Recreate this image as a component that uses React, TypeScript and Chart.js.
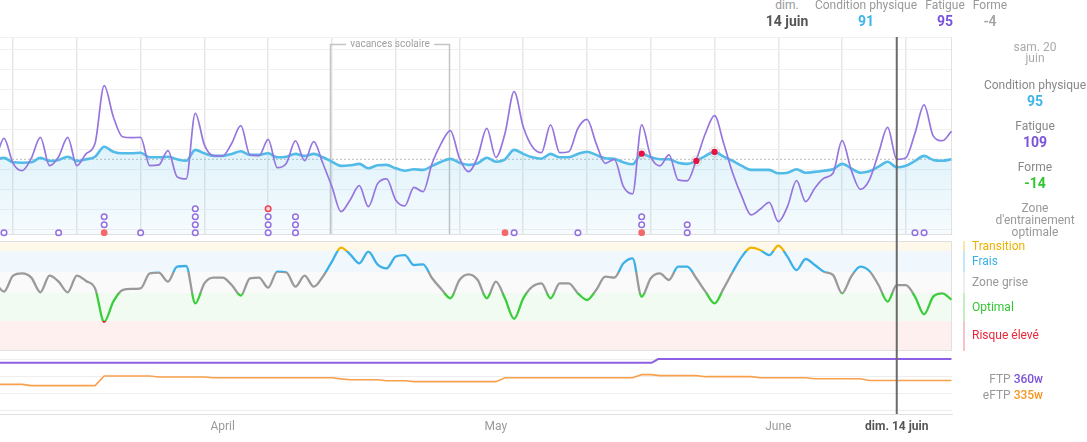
import React, { useEffect, useRef } from "react";
import { Chart, registerables } from "chart.js";

Chart.register(...registerables);

// day index: 0 = 1 March 2020
const FIRST_DAY = 6; // 7 March 2020
const SELECTED_DAY = 105; // dim. 14 juin
const X_MIN = 6.564;
const X_MAX = 111.065;

const weekTicks = [8, 15, 22, 29, 36, 43, 50, 57, 64, 71, 78, 85, 92, 99, 106];
const monthTickDays = [31, 61, 92, 105];
const monthTickLabels = ["April", "May", "June", "dim. 14 juin"];

const fitness = [
  95, 95.7, 93.5, 93.3, 93.5, 95.7, 94.2, 94.7, 96.3, 94.2,
  95, 96.3, 101.3, 98.8, 98, 98, 98.3, 96, 96, 96.3,
  95, 94.3, 99.7, 98, 96.7, 96.7, 97.7, 99, 97.2, 97.2,
  98, 96, 96.3, 97.7, 96.7, 97.7, 96, 93.8, 91.7, 92,
  92.7, 90.5, 92, 92.2, 90.5, 89.3, 90, 89.7, 91.7, 93.8,
  95.2, 93.3, 92.2, 93, 95.8, 93.8, 95, 99.7, 97.7, 96,
  95.3, 97.7, 96, 96, 97.7, 98.8, 97.2, 95.5, 95.2, 93.5,
  92.5, 97.8, 96, 95, 95, 93.3, 92.7, 94.2, 96.7, 98.7,
  96.3, 94.2, 91.7, 89.7, 89.7, 89.7, 88, 88.3, 90, 88.3,
  88.7, 89.3, 90, 92.7, 90.5, 88.3, 89, 91.3, 93.8, 91,
  91.8, 94.2, 96.7, 94.7, 94.3, 95,
];

const fatigue = [
  93, 105.5, 93, 89.3, 95.5, 106, 91.8, 96.3, 106, 91.8,
  97.7, 103, 131.8, 116.3, 106.3, 105.8, 106, 91.8, 92.2, 99.3,
  86.3, 85.2, 118, 102.2, 96.8, 96.7, 103, 111.8, 97.2, 96.8,
  105, 90.8, 93, 104.2, 94.3, 103.8, 93, 81.3, 68.8, 74.7,
  81.8, 71.3, 82.7, 85.2, 74.7, 71.7, 81, 78.8, 93, 103,
  109.3, 95.5, 88.8, 96.3, 110.5, 96, 108, 128.8, 111.3, 101.3,
  98.3, 112.2, 98.3, 98.8, 110.5, 115, 103, 93, 95, 81.3,
  77.7, 112.2, 96.3, 91.7, 97.2, 84.7, 84.2, 94.7, 108, 116.8,
  103, 88, 76.3, 67.2, 70, 73.5, 63.8, 71.3, 84.3, 73.8,
  80.5, 85.5, 88, 104.3, 89.7, 80, 84.7, 98, 111, 95,
  95.8, 108, 122.2, 106.7, 104.3, 109,
];

// form as % of fitness
const formPercent = [
  -1.9, -9, 2.4, 4, 1, -9.5, 2.4, -1.9, -9.5, 2.4,
  -1.4, -6.7, -30.6, -16.2, -7.9, -7.1, -6.7, 4, 4.5, -1.9,
  8.8, 9.3, -17.4, -3.1, 1, 1, -4.3, -11.9, 0.5, 1,
  -6.2, 5.2, 4.8, -5.5, 2.4, -5.5, 1.7, 12.4, 22.4, 17.6,
  11.2, 19.5, 10.5, 7.6, 16, 17.1, 10, 10.5, 0.5, -7.1,
  -13.8, -0.7, 3.3, -0.7, -13.8, -1.9, -14, -28.5, -13.8, -5.5,
  -3.1, -13.8, -3.1, -3.1, -10.2, -15, -7.9, 1.7, 1, 11.2,
  14.8, -12.6, 0.5, 4, -0.7, 8.8, 8.8, 0.5, -9, -17.4,
  -6.7, 5.2, 16, 22.4, 20.7, 17.1, 23.8, 16, 6.4, 14.3,
  10, 5.2, 2.9, -10.2, 1.7, 8.8, 5.7, -4.3, -16.2, -4.4,
  -4.4, -12.6, -25.2, -12.6, -10.2, -14.7,
];

const eftp = [
  330.5, 330.5, 330.5, 330.5,
  329, 329, 329, 329, 329, 329, 329, 329,
  340.4, 340.4, 340.4, 340.4, 340.4, 340.4,
  339.2, 339.2, 339.2, 339.2, 339.2, 339.2,
  338.4, 338.4, 338.4, 338.4, 338.4, 338.4, 338.4, 338.4, 338.4, 338.4, 338.4, 338.4, 338.4, 338.4,
  337,
  336, 336, 336, 336,
  334.8, 334.8, 334.8,
  333.7, 333.7, 333.7, 333.7, 333.7, 333.7, 333.7, 333.7, 333.7, 333.7,
  338.4, 338.4, 338.4, 338.4, 338.4, 338.4, 338.4, 338.4, 338.4, 338.4, 338.4, 338.4, 338.4, 338.4, 338.4,
  342, 342,
  340.8, 340.8, 340.8, 340.8, 340.8,
  339.6, 339.6, 339.6, 339.6, 339.6, 339.6,
  338.4, 338.4, 338.4, 338.4, 338.4, 338.4,
  337.2, 337.2, 337.2, 337.2, 337.2, 337.2,
  335, 335, 335, 335, 335, 335, 335, 335, 335, 335,
];

const ftpDays = [6, 78.1, 78.8, 111];
const ftpValues = [356, 356, 360.5, 360.5];

const loadGridValues = [60, 70, 80, 90, 100, 110, 120, 130, 140, 150];
const ftpGridValues = [300, 320, 340, 360];

const formZoneBounds = [20, 5, -10, -30];
const formZoneLineColors = ["#f0b400", "#3cb0e6", "#9a9a9a", "#3ccd3c", "#e8283a"];
const formZoneFillColors = ["#fdf8ea", "#f1f8fd", "#fafafa", "#f2fbf1", "#fdf0ef"];

const activityDays = [7, 13, 18, 18, 18, 22, 28, 28, 28, 28, 36, 36, 36, 36, 39, 39, 39, 62, 63, 70, 77, 77, 77, 82, 82, 107, 108];
const activityLevels = [0, 0, 0, 1, 2, 0, 0, 1, 2, 3, 0, 1, 2, 3, 0, 1, 2, 0, 0, 0, 0, 1, 2, 0, 1, 0, 0];
const activityKinds = ["p", "p", "r", "p", "p", "p", "p", "p", "p", "p", "p", "p", "p", "o", "p", "p", "p", "r", "p", "p", "r", "p", "p", "p", "p", "p", "p"];

const eventDays = [77, 83, 85];
const vacationDays = [42.8, 55.8];

const CHART_W = 954;

export default function App() {
  const c1 = useRef<HTMLCanvasElement>(null);
  const c2 = useRef<HTMLCanvasElement>(null);
  const c3 = useRef<HTMLCanvasElement>(null);

  useEffect(() => {
    Chart.defaults.font.family = "Roboto, 'Noto Sans', sans-serif";
    const pts = (arr: number[]) => arr.map((v, i) => ({ x: FIRST_DAY + i, y: v }));
    const lastFitness = fitness[fitness.length - 1];
    const fitnessAt = (d: number) => fitness[d - FIRST_DAY];
    const zeroW = (s: any) => {
      s.width = 0;
    };
    const zeroH = (s: any) => {
      s.height = 0;
    };

    const markerLine = {
      id: "markerLine",
      afterDatasetsDraw(chart: any, _a: any, opts: any) {
        const { ctx, chartArea } = chart;
        const x = chart.scales.x.getPixelForValue(SELECTED_DAY);
        ctx.save();
        ctx.strokeStyle = "#6a6a6a";
        ctx.lineWidth = 2;
        ctx.beginPath();
        ctx.moveTo(x, opts.fromArea ? chartArea.top : 0);
        ctx.lineTo(x, opts.toArea ? chartArea.bottom : chart.height);
        ctx.stroke();
        ctx.restore();
      },
    };

    const frame = {
      id: "frame",
      beforeDatasetsDraw(chart: any) {
        const { ctx, chartArea: a } = chart;
        ctx.save();
        ctx.strokeStyle = "#e2e2e2";
        ctx.lineWidth = 1;
        ctx.beginPath();
        ctx.moveTo(a.right - 0.5, a.top);
        ctx.lineTo(a.right - 0.5, a.bottom);
        ctx.stroke();
        ctx.restore();
      },
    };

    const vacances = {
      id: "vacances",
      beforeDatasetsDraw(chart: any) {
        const { ctx, chartArea: a } = chart;
        const xs = chart.scales.x;
        const x1 = Math.round(xs.getPixelForValue(vacationDays[0])) + 0.5;
        const x2 = Math.round(xs.getPixelForValue(vacationDays[1])) + 0.5;
        const y = a.top + 7.5;
        const mid = (x1 + x2) / 2;
        ctx.save();
        ctx.strokeStyle = "#c4c4c4";
        ctx.lineWidth = 1.5;
        ctx.beginPath();
        ctx.moveTo(x1, a.bottom);
        ctx.lineTo(x1, y);
        ctx.lineTo(mid - 44, y);
        ctx.moveTo(mid + 44, y);
        ctx.lineTo(x2, y);
        ctx.lineTo(x2, a.bottom);
        ctx.stroke();
        ctx.restore();
      },
    };

    const zones = {
      id: "zones",
      beforeDatasetsDraw(chart: any) {
        const { ctx, chartArea: a } = chart;
        const y = chart.scales.y;
        const edges = [y.max, ...formZoneBounds, y.min];
        ctx.save();
        for (let i = 0; i < formZoneFillColors.length; i++) {
          const t = y.getPixelForValue(edges[i]);
          const b = y.getPixelForValue(edges[i + 1]);
          ctx.fillStyle = formZoneFillColors[i];
          ctx.fillRect(a.left, t, a.right - a.left, b - t);
        }
        ctx.strokeStyle = "#e0e0e0";
        ctx.lineWidth = 1;
        ctx.beginPath();
        ctx.moveTo(a.left, a.top + 0.5);
        ctx.lineTo(a.right, a.top + 0.5);
        ctx.moveTo(a.left, a.bottom - 0.5);
        ctx.lineTo(a.right, a.bottom - 0.5);
        ctx.moveTo(a.right - 0.5, a.top);
        ctx.lineTo(a.right - 0.5, a.bottom);
        ctx.stroke();
        ctx.restore();
      },
    };

    const noPlugins = { legend: { display: false }, tooltip: { enabled: false } };

    const chart1 = new Chart(c1.current!, {
      type: "line",
      data: {
        datasets: [
          {
            data: eventDays.map((d) => ({ x: d, y: fitnessAt(d) })),
            showLine: false,
            pointRadius: 3.1,
            pointBackgroundColor: "#ec0f42",
            pointBorderColor: "#ec0f42",
            pointBorderWidth: 0,
            clip: false,
          } as any,
          {
            data: eventDays.map((d) => ({ x: d, y: fitnessAt(d) })),
            showLine: false,
            pointRadius: 5,
            pointBackgroundColor: "rgba(255,255,255,0)",
            pointBorderColor: "rgba(170,170,170,0.45)",
            pointBorderWidth: 1,
            clip: false,
          } as any,
          {
            data: activityDays.map((d, i) => ({ x: d, y: activityLevels[i] })),
            yAxisID: "yAct",
            showLine: false,
            pointRadius: activityKinds.map((k) => (k === "r" ? 3.4 : 2.8)),
            pointBorderWidth: activityKinds.map((k) => (k === "r" ? 0 : 1.5)),
            pointBackgroundColor: activityKinds.map((k) => (k === "r" ? "#f46a6a" : k === "o" ? "#fbd3d6" : "#ffffff")),
            pointBorderColor: activityKinds.map((k) => (k === "r" ? "#f46a6a" : k === "o" ? "#ee4455" : "#9370e0")),
            clip: false,
          } as any,
          {
            data: pts(fatigue),
            borderColor: "#9676de",
            borderWidth: 1.7,
            pointRadius: 0,
            cubicInterpolationMode: "monotone",
            fill: false,
          },
          {
            data: pts(fitness),
            borderColor: "#52bbe8",
            borderWidth: 2.6,
            pointRadius: 0,
            cubicInterpolationMode: "monotone",
            fill: "start",
            backgroundColor: (c: any) => {
              const ch = c.chart;
              const a = ch.chartArea;
              if (!a) return "rgba(82,187,232,0.12)";
              const g = ch.ctx.createLinearGradient(0, ch.scales.y.getPixelForValue(100), 0, a.bottom);
              g.addColorStop(0, "rgba(82,187,232,0.18)");
              g.addColorStop(1, "rgba(82,187,232,0.05)");
              return g;
            },
          } as any,
          {
            data: [
              { x: X_MIN, y: lastFitness },
              { x: X_MAX, y: lastFitness },
            ],
            borderColor: "#bdbdbd",
            borderWidth: 1,
            borderDash: [2, 2],
            pointRadius: 0,
            fill: false,
          },
        ],
      },
      options: {
        animation: false,
        responsive: false,
        layout: { autoPadding: false, padding: { top: 7, bottom: 6, left: 0, right: 2 } },
        plugins: { ...noPlugins, markerLine: { fromArea: true, toArea: false } } as any,
        scales: {
          x: {
            type: "linear",
            min: X_MIN,
            max: X_MAX,
            afterBuildTicks: (s: any) => {
              s.ticks = weekTicks.map((v) => ({ value: v }));
            },
            afterFit: zeroH,
            ticks: { display: false },
            grid: { color: "#e7e7e7", lineWidth: 1.5, drawTicks: false },
            border: { display: true, color: "#e0e0e0" },
          },
          y: {
            min: 57.65,
            max: 156.15,
            afterBuildTicks: (s: any) => {
              s.ticks = [...loadGridValues, 156.15].map((v) => ({ value: v }));
            },
            afterFit: zeroW,
            ticks: { display: false },
            grid: { color: "#f0f0f0", lineWidth: 1, drawTicks: false },
            border: { display: false },
          },
          yAct: {
            display: false,
            min: -0.1625,
            max: 24.4625,
          },
        },
      } as any,
      plugins: [frame, vacances, markerLine],
    });

    const chart2 = new Chart(c2.current!, {
      type: "line",
      data: {
        datasets: [
          {
            data: pts(formPercent),
            borderWidth: 2.3,
            pointRadius: 0,
            cubicInterpolationMode: "monotone",
            fill: false,
            borderColor: (c: any) => {
              const ch = c.chart;
              const a = ch.chartArea;
              if (!a) return "#9a9a9a";
              const ys = ch.scales.y;
              const g = ch.ctx.createLinearGradient(0, a.top, 0, a.bottom);
              const pos = (v: number) => Math.min(1, Math.max(0, (ys.getPixelForValue(v) - a.top) / (a.bottom - a.top)));
              g.addColorStop(0, formZoneLineColors[0]);
              formZoneBounds.forEach((b, i) => {
                const p = pos(b);
                g.addColorStop(p, formZoneLineColors[i]);
                g.addColorStop(p, formZoneLineColors[i + 1]);
              });
              g.addColorStop(1, formZoneLineColors[formZoneLineColors.length - 1]);
              return g;
            },
          } as any,
        ],
      },
      options: {
        animation: false,
        responsive: false,
        layout: { autoPadding: false, padding: { top: 1, bottom: 4, left: 0, right: 2 } },
        plugins: { ...noPlugins, markerLine: { fromArea: false, toArea: false } } as any,
        scales: {
          x: { type: "linear", min: X_MIN, max: X_MAX, display: false },
          y: { min: -51.43, max: 27.14, display: false },
        },
      } as any,
      plugins: [zones, markerLine],
    });

    const chart3 = new Chart(c3.current!, {
      type: "line",
      data: {
        datasets: [
          {
            data: ftpDays.map((d, i) => ({ x: d, y: ftpValues[i] })),
            borderColor: "#8d5fe3",
            borderWidth: 2,
            pointRadius: 0,
            fill: false,
            clip: false,
          } as any,
          {
            data: pts(eftp),
            borderColor: "#f8a04c",
            borderWidth: 1.6,
            pointRadius: 0,
            fill: false,
          },
        ],
      },
      options: {
        animation: false,
        responsive: false,
        layout: { autoPadding: false, padding: { top: 4, bottom: 0, left: 0, right: 2 } },
        plugins: { ...noPlugins, markerLine: { fromArea: false, toArea: true } } as any,
        scales: {
          x: {
            type: "linear",
            min: X_MIN,
            max: X_MAX,
            afterBuildTicks: (s: any) => {
              s.ticks = monthTickDays.map((v) => ({ value: v }));
            },
            afterFit: (s: any) => {
              s.height = 22;
            },
            ticks: {
              autoSkip: false,
              maxRotation: 0,
              padding: 6,
              color: (c: any) => (c.tick && c.tick.value === SELECTED_DAY ? "#555555" : "#9a9a9a"),
              font: (c: any) => ({ size: 12, weight: c.tick && c.tick.value === SELECTED_DAY ? "bold" : "normal" }),
              callback: (v: any) => {
                const i = monthTickDays.indexOf(Number(v));
                return i >= 0 ? monthTickLabels[i] : "";
              },
            },
            grid: { display: false, drawTicks: false },
            border: { display: true, color: "#e0e0e0" },
          },
          y: {
            min: 295.25,
            max: 360.6,
            afterBuildTicks: (s: any) => {
              s.ticks = ftpGridValues.map((v) => ({ value: v }));
            },
            afterFit: zeroW,
            ticks: { display: false },
            grid: { color: "#eeeeee", lineWidth: 1, drawTicks: false },
            border: { display: false },
          },
        },
      } as any,
      plugins: [markerLine],
    });

    return () => {
      chart1.destroy();
      chart2.destroy();
      chart3.destroy();
    };
  }, []);

  const T = (p: { x: number; y: number; s?: number; c?: string; w?: number | string; a?: "center" | "left" | "right"; children: React.ReactNode }) => {
    const size = p.s ?? 12;
    const lh = Math.round(size * 1.2);
    const width = 200;
    const a = p.a ?? "center";
    const left = a === "center" ? p.x - width / 2 : a === "right" ? p.x - width : p.x;
    return (
      <div
        style={{
          position: "absolute",
          left,
          top: p.y - lh / 2,
          width,
          textAlign: a,
          fontSize: size,
          lineHeight: lh + "px",
          color: p.c ?? "#999",
          fontWeight: p.w ?? 400,
          whiteSpace: "nowrap",
        }}
      >
        {p.children}
      </div>
    );
  };

  const bar = (top: number, h: number, color: string) => (
    <div style={{ position: "absolute", left: 963, top, width: 2, height: h, background: color }} />
  );

  return (
    <div
      style={{
        position: "absolute",
        left: 0,
        top: 0,
        width: 1087,
        height: 442,
        overflow: "hidden",
        background: "#fff",
        fontFamily: "Roboto, 'Noto Sans', sans-serif",
      }}
    >
      <canvas ref={c1} width={CHART_W} height={210} style={{ position: "absolute", left: 0, top: 30, width: CHART_W, height: 210 }} />
      <canvas ref={c2} width={CHART_W} height={115} style={{ position: "absolute", left: 0, top: 240, width: CHART_W, height: 115 }} />
      <canvas ref={c3} width={CHART_W} height={81} style={{ position: "absolute", left: 0, top: 355, width: CHART_W, height: 81 }} />

      <T x={390} y={44} s={10} c="#a0a0a0">vacances scolaire</T>

      <T x={787} y={5}>dim.</T>
      <T x={787} y={21} s={14} c="#555" w={700}>14 juin</T>
      <T x={866} y={5}>Condition physique</T>
      <T x={866} y={21} s={14} c="#3db4e8" w={700}>91</T>
      <T x={945} y={5}>Fatigue</T>
      <T x={945} y={21} s={14} c="#7a52db" w={700}>95</T>
      <T x={990} y={5}>Forme</T>
      <T x={990} y={21} s={14} c="#a0a0a0" w={500}>-4</T>

      <T x={1035} y={46.5} c="#aaa">sam. 20</T>
      <T x={1035} y={58} c="#aaa">juin</T>
      <T x={1035} y={85} c="#888">Condition physique</T>
      <T x={1035} y={101} s={14} c="#3db4e8" w={700}>95</T>
      <T x={1035} y={126} c="#888">Fatigue</T>
      <T x={1035} y={142} s={14} c="#7a52db" w={700}>109</T>
      <T x={1035} y={167} c="#888">Forme</T>
      <T x={1035} y={183} s={14} c="#33c633" w={700}>-14</T>
      <T x={1035} y={208} c="#999">Zone</T>
      <T x={1035} y={220} c="#999">d'entrainement</T>
      <T x={1035} y={232} c="#999">optimale</T>

      {bar(241, 10, "#f7e6ae")}
      {bar(251, 21, "#c4e6f7")}
      {bar(272, 21, "#eeeeee")}
      {bar(293, 28, "#c5eec5")}
      {bar(321, 30, "#f6c4c8")}
      <T x={972} y={246} a="left" c="#efb000">Transition</T>
      <T x={972} y={261} a="left" c="#3cb0e6">Frais</T>
      <T x={972} y={282} a="left" c="#999">Zone grise</T>
      <T x={972} y={307} a="left" c="#33c633">Optimal</T>
      <T x={972} y={335} a="left" c="#e8283a">Risque élevé</T>

      <T x={1043} y={379} a="right" c="#999">
        FTP <span style={{ color: "#7a52db", fontWeight: 500 }}>360w</span>
      </T>
      <T x={1043} y={395} a="right" c="#999">
        eFTP <span style={{ color: "#f7941d", fontWeight: 500 }}>335w</span>
      </T>
    </div>
  );
}
